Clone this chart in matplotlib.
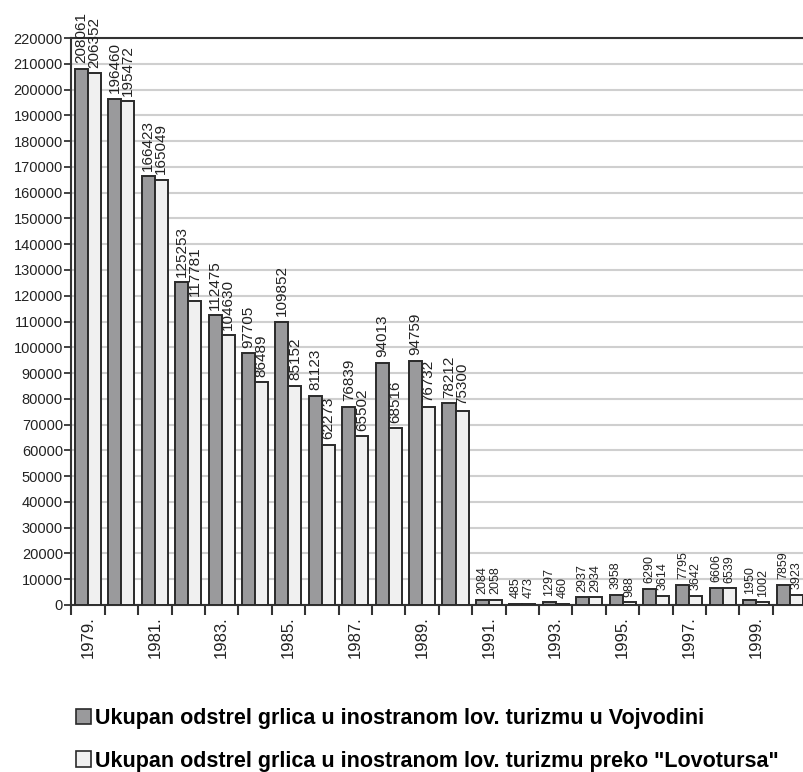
import matplotlib
matplotlib.use("Agg")
import matplotlib.pyplot as plt
from matplotlib.patches import Patch
import numpy as np

years = [str(y) for y in range(1979, 2001)]
ukupno = [208061, 196460, 166423, 125253, 112475, 97705, 109852, 81123, 76839, 94013,
          94759, 78212, 2084, 485, 1297, 2937, 3958, 6290, 7795, 6606, 1950, 7859]
lovotours = [206352, 195472, 165049, 117781, 104630, 86489, 85152, 62273, 65502, 68516,
             76732, 75300, 2058, 473, 460, 2934, 988, 3614, 3642, 6539, 1002, 3923]
legend_labels = ['Ukupan odstrel grlica u inostranom lov. turizmu u Vojvodini',
                 'Ukupan odstrel grlica u inostranom lov. turizmu preko "Lovotursa"']

plt.rcParams['font.family'] = ['Liberation Sans', 'DejaVu Sans']

fig = plt.figure(figsize=(8.04, 7.72), dpi=100)
ax = fig.add_axes([71.3 / 804, 1 - 605 / 772, 735 / 804, (605 - 38) / 772])

x = np.arange(len(years))
w = 0.39
edge = '#2a2a2a'
c1 = '#9a9a9c'
c2 = '#f0f0f0'
ax.bar(x - w / 2, ukupno, w, color=c1, edgecolor=edge, linewidth=1.4, zorder=3)
ax.bar(x + w / 2, lovotours, w, color=c2, edgecolor=edge, linewidth=1.4, zorder=3)

for xi, v1, v2 in zip(x, ukupno, lovotours):
    for off, v in ((-w / 2, v1), (w / 2, v2)):
        fs = 11 if v >= 10000 else 9
        ax.annotate(str(v), (xi + off, v), xytext=(0, 4), textcoords='offset points',
                    rotation=90, ha='center', va='bottom', fontsize=fs,
                    color='#222222', zorder=4, annotation_clip=False)

ax.set_ylim(0, 220000)
ax.set_xlim(-0.5, len(years) - 0.5)
ax.set_yticks(np.arange(0, 220001, 10000))
ax.set_yticklabels([str(v) for v in range(0, 220001, 10000)], fontsize=10.5, color='#222222')
ax.yaxis.grid(True, color='#cfcfcf', linewidth=1.5, zorder=0)
ax.set_axisbelow(True)

ax.set_xticks(x[::2])
ax.set_xticklabels([y + '.' for y in years[::2]], rotation=90, fontsize=12, color='#222222')
ax.tick_params(axis='x', which='major', length=0, pad=8)
ax.set_xticks(np.arange(-0.5, len(years), 1), minor=True)
ax.tick_params(axis='x', which='minor', length=7, width=1.5, color='#333333')
ax.tick_params(axis='y', length=5, width=1.3, color='#333333', pad=1)

for s in ('left', 'bottom', 'top'):
    ax.spines[s].set_color('#333333')
    ax.spines[s].set_linewidth(1.5)
ax.spines['right'].set_visible(False)

handles = [Patch(facecolor=c1, edgecolor=edge, linewidth=1.2),
           Patch(facecolor=c2, edgecolor=edge, linewidth=1.2)]
fig.legend(handles, legend_labels, loc='upper left', bbox_to_anchor=(76 / 804, 1 - 708 / 772),
           frameon=False, handlelength=0.7, handleheight=0.75, handletextpad=0.2,
           labelspacing=1.0, borderaxespad=0, borderpad=0,
           prop={'family': ['Liberation Sans', 'DejaVu Sans'],
                 'weight': 'bold', 'size': 15.5})

fig.savefig('out.png', dpi=100)
